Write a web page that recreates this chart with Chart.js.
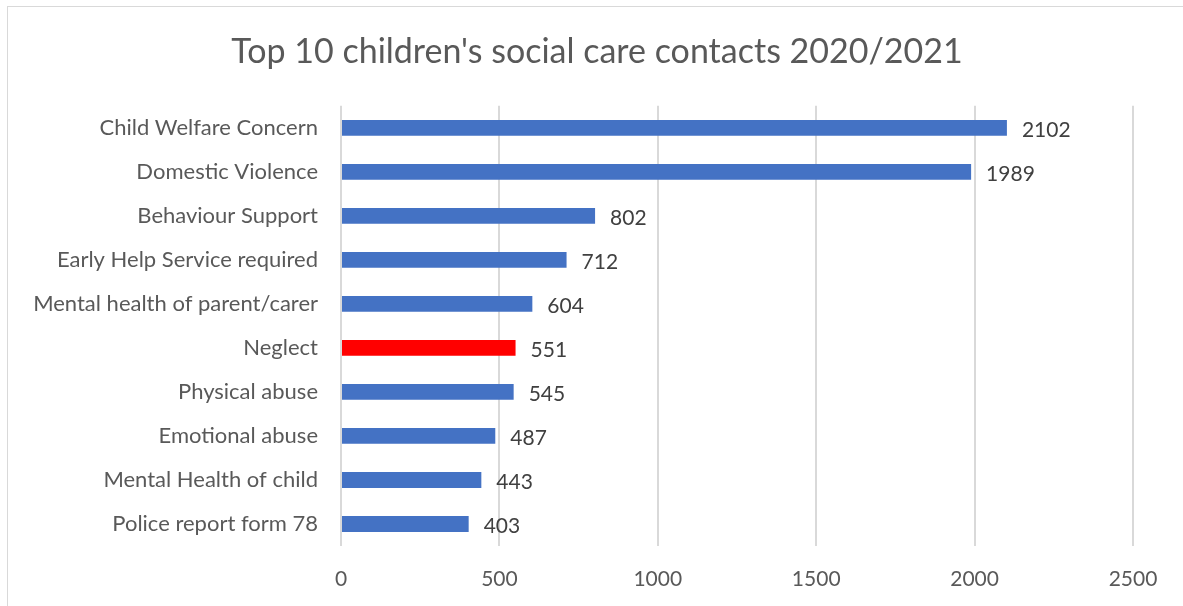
<!DOCTYPE html>
<html lang="en-GB">
<head>
	<meta charset="utf-8">
	<script src="https://cdn.jsdelivr.net/npm/chart.js@4.4.1/dist/chart.umd.min.js"></script>
	<style>
		body { margin:0; background:#fff; }
		#frame { position:absolute; left:7px; top:6px; width:1200px; height:620px; border-left:1px solid #d9d9d9; border-top:1px solid #d9d9d9; pointer-events:none; }
		#wrap { position:absolute; left:0; top:0; width:1183px; height:606px; }
	</style>
</head>
<body>
	<div id="wrap"><canvas id="myChart"></canvas></div>
	<div id="frame"></div>
	<script>
	var categorias = ["Child Welfare Concern", "Domestic Violence", "Behaviour Support", "Early Help Service required",
		"Mental health of parent/carer", "Neglect", "Physical abuse", "Emotional abuse", "Mental Health of child", "Police report form 78"];
	var contatos = [2102, 1989, 802, 712, 604, 551, 545, 487, 443, 403];
	var destaque = "Neglect";
	var titulo = "Top 10 children's social care contacts 2020/2021";

	var fonte = "Lato, 'Open Sans', sans-serif";

	var cores = [];
	for (var i = 0; i < categorias.length; i++)
	{
		cores.push(categorias[i] == destaque ? "#ff0000" : "#4472c4");
	}

	// valores ao lado das barras
	var rotulos = {
		id: "rotulos",
		afterDatasetsDraw: function(chart)
		{
			var ctx = chart.ctx;
			var meta = chart.getDatasetMeta(0);
			ctx.save();
			ctx.font = "21px " + fonte;
			ctx.fillStyle = "#404040";
			ctx.textAlign = "left";
			ctx.textBaseline = "middle";
			meta.data.forEach(function(bar, i)
			{
				ctx.fillText(contatos[i], bar.x + 15, bar.y + 2);
			});
			ctx.restore();
		}
	};

	var ctx = document.getElementById('myChart').getContext('2d');
	var myChart = new Chart(ctx, {
		type: 'bar',
		data: {
			labels: categorias,
			datasets: [{
				data: contatos,
				backgroundColor: cores,
				borderWidth: 0,
				barPercentage: 0.45,
				categoryPercentage: 0.8
			}]
		},
		plugins: [rotulos],
		options: {
			indexAxis: 'y',
			responsive: true,
			maintainAspectRatio: false,
			animation: false,
			layout: { padding: { left: 11, right: 0, top: 6, bottom: 0 } },
			plugins: {
				legend: { display: false },
				tooltip: { enabled: false },
				title: {
					display: true,
					text: titulo,
					color: "#595959",
					font: { family: fonte, size: 34, weight: 'normal' },
					padding: { top: 26, bottom: 33 }
				}
			},
			scales: {
				x: {
					min: 0,
					max: 2500,
					ticks: {
						stepSize: 500, color: "#595959", font: { family: fonte, size: 21 }, padding: 21,
						callback: function(v) { return String(v); }
					},
					grid: { color: "#d9d9d9", lineWidth: 2, drawTicks: false },
					border: { display: false },
					afterFit: function(axis) { axis.height = 60; }
				},
				y: {
					ticks: { color: "#595959", font: { family: fonte, size: 22 }, padding: 23 },
					grid: { display: false, drawTicks: false },
					border: { display: false },
					afterFit: function(axis) { axis.width = 330; }
				},
				// margem vazia a direita
				y2: {
					type: 'linear',
					position: 'right',
					min: 0,
					max: 1,
					ticks: { display: false },
					grid: { display: false, drawTicks: false },
					border: { display: false },
					afterFit: function(axis) { axis.width = 50; }
				}
			}
		}
	});
	</script>
</body>
</html>
